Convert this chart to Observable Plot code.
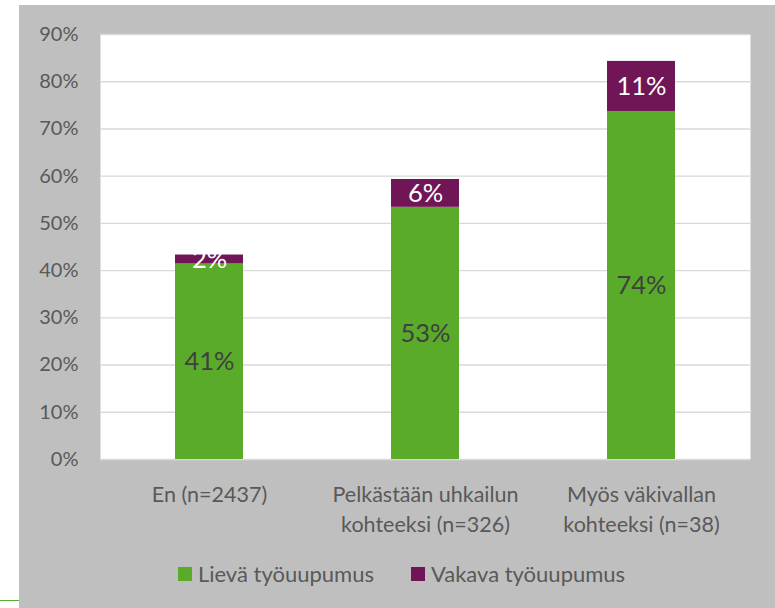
<!DOCTYPE html>
<html>
<head>
<meta charset="utf-8">
<script src="https://cdn.jsdelivr.net/npm/d3@7"></script>
<script src="https://cdn.jsdelivr.net/npm/@observablehq/plot@0.6"></script>
<style>
  body { margin: 0; background: #ffffff; }
  #wrap { position: relative; width: 775px; height: 608px; overflow: hidden; background: #ffffff; font-family: Lato, "Open Sans", sans-serif; }
  #gray { position: absolute; left: 19px; top: 5px; right: 0; bottom: 0; background: #bfbfbf; }
  #deco { position: absolute; left: 0; top: 600px; width: 19px; height: 1px; background: #59ab29; }
  #chart { position: absolute; left: 0; top: 0; }
  #legend { position: absolute; left: 14px; top: 560px; width: 775px; display: flex; justify-content: center; gap: 37px; font-size: 22px; color: #595959; }
  .item { display: flex; align-items: center; gap: 6px; }
  .sw { width: 14px; height: 14px; display: inline-block; }
</style>
</head>
<body>
<div id="wrap">
  <div id="gray"></div>
  <div id="deco"></div>
  <div id="chart"></div>
  <div id="legend"></div>
</div>
<script>
const categories = ["En (n=2437)", "Pelkästään uhkailun kohteeksi (n=326)", "Myös väkivallan kohteeksi (n=38)"];
const categoryLabels = ["En (n=2437)", "Pelkästään uhkailun\nkohteeksi (n=326)", "Myös väkivallan\nkohteeksi (n=38)"];
const seriesNames = ["Lievä työuupumus", "Vakava työuupumus"];
const lieva = [41.4, 53.4, 73.7];
const vakava = [1.9, 5.9, 10.6];
const lievaLabels = ["41%", "53%", "74%"];
const vakavaLabels = ["2%", "6%", "11%"];
const yTicks = [0, 10, 20, 30, 40, 50, 60, 70, 80, 90];
const colors = ["#59ab29", "#701555"];

const data = [];
categories.forEach((c, i) => {
  data.push({cat: c, series: seriesNames[0], value: lieva[i], label: lievaLabels[i]});
  data.push({cat: c, series: seriesNames[1], value: vakava[i], label: vakavaLabels[i]});
});
const labelOf = Object.fromEntries(categories.map((c, i) => [c, categoryLabels[i]]));

const chart = Plot.plot({
  width: 775,
  height: 550,
  marginLeft: 100,
  marginRight: 25,
  marginTop: 34,
  marginBottom: 91,
  style: {background: "transparent", fontFamily: "Lato, 'Open Sans', sans-serif", color: "#595959"},
  x: {domain: categories, paddingInner: 0.686, paddingOuter: 0.343, label: null},
  y: {domain: [0, 90], label: null},
  color: {domain: seriesNames, range: colors},
  marks: [
    Plot.frame({fill: "white", stroke: null}),
    Plot.gridY(yTicks, {stroke: "#d9d9d9", strokeOpacity: 1, strokeWidth: 1.4}),
    Plot.barY(data, Plot.stackY({x: "cat", y: "value", fill: "series", order: seriesNames})),
    Plot.text(data, Plot.stackY({x: "cat", y: "value", z: "series", order: seriesNames,
      text: d => d.series === seriesNames[0] ? d.label : "", fill: "#404040", fontSize: 25.5})),
    Plot.text(data, Plot.stackY({x: "cat", y: "value", z: "series", order: seriesNames,
      text: d => d.series === seriesNames[1] ? d.label : "", fill: "white", fontSize: 25.5})),
    Plot.axisY({ticks: yTicks, tickFormat: d => d + "%", tickSize: 0, tickPadding: 22, fontSize: 20, fill: "#595959", label: null}),
    Plot.axisX({tickFormat: d => labelOf[d], tickSize: 0, tickPadding: 22, fontSize: 21.5, lineHeight: 1.36, fill: "#595959", label: null})
  ]
});
document.getElementById("chart").appendChild(chart);

const legend = document.getElementById("legend");
seriesNames.forEach((s, i) => {
  const it = document.createElement("div");
  it.className = "item";
  const sw = document.createElement("span");
  sw.className = "sw";
  sw.style.background = colors[i];
  const t = document.createElement("span");
  t.textContent = s;
  it.appendChild(sw);
  it.appendChild(t);
  legend.appendChild(it);
});
</script>
</body>
</html>
